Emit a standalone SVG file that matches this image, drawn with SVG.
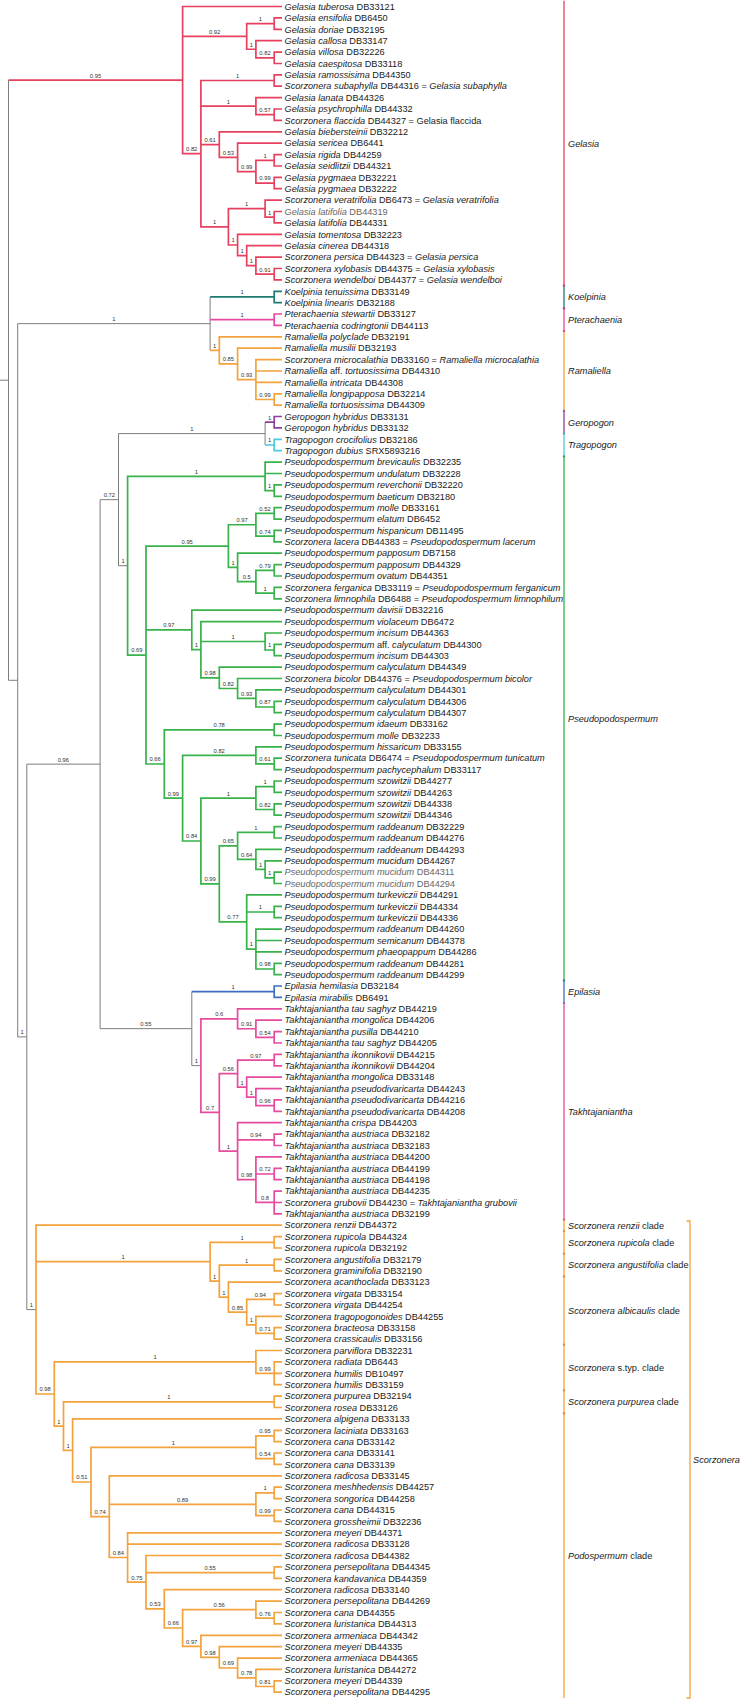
<svg xmlns="http://www.w3.org/2000/svg" width="742" height="1701" viewBox="0 0 742 1701">
<style>
.b{fill:none;stroke-width:1.7;stroke-linejoin:miter}
.bb{fill:none;stroke:#7d7d7d;stroke-width:1}
.ge{stroke:#e8405f}.ko{stroke:#1e7b73}.pt{stroke:#e8489e}.ra{stroke:#f4a23c}.gp{stroke:#8e3ea0}.tr{stroke:#4cc9dc}.ps{stroke:#38b24a}.ep{stroke:#3d6cc2}.ta{stroke:#e84a9e}.sc{stroke:#f4a23c}
.br{fill:none;stroke-width:1.3}
text{font-family:"Liberation Sans",Arial,sans-serif}
.l{font-size:9.2px;fill:#1a1a1a}
.c{font-size:9.2px;fill:#1a1a1a}
.s{font-size:5.8px;fill:#333;text-anchor:middle}
.i{font-style:italic}
.g{fill:#666}
</style>
<g id="connectors">
<path class="bb" d="M0 380.2H8.5M8.5 80.1V680.3H17.7M17.7 323.65H210.1M17.7 323.65V1036.9H26.8M100.1 764.15H26.8V1309.6H36M118.5 499.65H100.1V1028.65H191.8M265.1 433.6H118.5V565.7H127.6M210.1 296.95V350.35M265.1 422.2V445M191.8 991.7V1065.6H200.9"/>
<path class="b ge" d="M8.5 80.1H182.6M282 6.5H182.6V153.65H200.9M182.6 36.4H246.7M274.2 23.6H246.7V49.25H255.9M282 17.9H274.2V29.3H282M282 40.7H255.9V57.8H274.2M282 52.1H274.2V63.5H282M274.2 80.5H200.9V226.8H228.4M200.9 106.15H255.9M200.9 144.6H219.3M282 74.8H274.2V86.2H282M282 97.6H255.9V114.7H274.2M282 109H274.2V120.4H282M282 131.8H219.3V157.45H237.6M282 143.2H237.6V171.7H255.9M274.2 160.3H255.9V183.05H274.2M282 154.6H274.2V166H282M282 177.4H274.2V188.7H282M265.1 208.65H228.4V245H237.6M282 200.1H265.1V217.2H274.2M282 211.5H274.2V222.9H282M282 234.3H237.6V255.7H246.7M282 245.7H246.7V265.65H255.9M282 257.1H255.9V274.2H274.2M282 268.5H274.2V279.9H282"/>
<path class="b ko" d="M210.1 296.95H274.2M282 291.3H274.2V302.6H282"/>
<path class="b pt" d="M210.1 319.7H274.2M282 314H274.2V325.4H282"/>
<path class="b ra" d="M210.1 350.35H219.3M282 336.8H219.3V363.9H237.6M282 348.2H237.6V379.55H255.9M282 359.6H255.9V399.5H274.2M255.9 371H282M255.9 382.4H282M282 393.8H274.2V405.2H282"/>
<path class="b gp" d="M265.1 422.2H274.2M282 416.5H274.2V427.9H282"/>
<path class="b tr" d="M265.1 445H274.2M282 439.3H274.2V450.7H282"/>
<path class="b ps" d="M265.1 476.35H127.6V655.05H146M282 462.1H265.1V490.6H274.2M265.1 473.5H282M282 484.9H274.2V496.3H282M228.4 546.1H146V764H164.3M146 629.95H191.8M255.9 524.75H228.4V567.45H237.6M274.2 513.4H255.9V536.1H274.2M282 507.7H274.2V519.1H282M282 530.4H274.2V541.8H282M282 553.2H237.6V581.7H255.9M274.2 570.3H255.9V593.1H274.2M282 564.6H274.2V576H282M282 587.4H274.2V598.8H282M282 610.2H191.8V649.7H200.9M282 621.6H200.9V677.8H219.3M200.9 641.5H265.1M282 633H265.1V650H274.2M282 644.3H274.2V655.7H282M282 667.1H219.3V688.5H237.6M282 678.5H237.6V698.45H255.9M282 689.9H255.9V707H274.2M282 701.3H274.2V712.7H282M274.2 729.8H164.3V798.2H182.6M282 724.1H274.2V735.5H282M255.9 755.4H182.6V841H200.9M282 746.9H255.9V763.9H274.2M282 758.2H274.2V769.6H282M255.9 798.1H200.9V883.9H219.3M274.2 786.7H255.9V809.5H274.2M282 781H274.2V792.4H282M282 803.8H274.2V815.2H282M237.6 845.8H219.3V921.95H246.7M274.2 832.3H237.6V859.35H255.9M282 826.6H274.2V838H282M282 849.4H255.9V869.3H265.1M282 860.8H265.1V877.8H274.2M282 872.1H274.2V883.5H282M282 894.9H246.7V949.05H255.9M246.7 912H274.2M282 906.3H274.2V917.7H282M282 929.1H255.9V969H274.2M255.9 940.5H282M255.9 951.9H282M282 963.3H274.2V974.7H282"/>
<path class="b ep" d="M191.8 991.7H274.2M282 986H274.2V997.4H282"/>
<path class="b ta" d="M237.6 1018.8H200.9V1112.4H219.3M282 1008.8H237.6V1028.75H255.9M282 1020.2H255.9V1037.3H274.2M282 1031.6H274.2V1043H282M237.6 1073.6H219.3V1151.2H237.6M274.2 1060.1H237.6V1087.15H246.7M282 1054.4H274.2V1065.8H282M282 1077.2H246.7V1097.1H255.9M282 1088.6H255.9V1105.6H274.2M282 1099.9H274.2V1111.3H282M282 1122.7H237.6V1179.7H255.9M237.6 1139.8H274.2M282 1134.1H274.2V1145.5H282M282 1156.9H255.9V1202.45H274.2M255.9 1174H274.2M282 1168.3H274.2V1179.7H282M282 1191.1H274.2V1213.8H282M274.2 1202.5H282"/>
<path class="b sc" d="M282 1225.2H36V1394H54.3M36 1261.7H210.1M274.2 1242.3H210.1V1281.1H219.3M282 1236.6H274.2V1248H282M274.2 1265.1H219.3V1297.15H228.4M282 1259.4H274.2V1270.8H282M282 1282.2H228.4V1312.1H246.7M274.2 1299.3H246.7V1324.9H255.9M282 1293.6H274.2V1305H282M282 1316.4H255.9V1333.4H274.2M282 1327.7H274.2V1339.1H282M255.9 1361.9H54.3V1426.1H63.5M282 1350.5H255.9V1373.3H274.2M282 1361.9H274.2V1384.7H282M274.2 1373.3H282M274.2 1401.8H63.5V1450.45H72.6M282 1396.1H274.2V1407.5H282M282 1418.9H72.6V1482H91M255.9 1447.3H91V1516.65H109.3M274.2 1435.95H255.9V1458.7H274.2M282 1430.3H274.2V1441.6H282M282 1453H274.2V1464.4H282M282 1475.8H109.3V1557.5H127.6M109.3 1504.3H255.9M274.2 1492.9H255.9V1515.7H274.2M282 1487.2H274.2V1498.6H282M282 1510H274.2V1521.4H282M282 1532.8H127.6V1582.2H146M127.6 1544.2H282M282 1555.5H146V1608.85H164.3M146 1572.6H274.2M282 1566.9H274.2V1578.3H282M282 1589.7H164.3V1628H182.6M255.9 1609.65H182.6V1646.3H200.9M282 1601.1H255.9V1618.2H274.2M282 1612.5H274.2V1623.9H282M282 1635.3H200.9V1657.35H219.3M282 1646.7H219.3V1668H237.6M282 1658.1H237.6V1677.95H255.9M282 1669.4H255.9V1686.5H274.2M282 1680.8H274.2V1692.2H282"/>
</g>
<g id="support">
<text class="s" x="95.5" y="77.5">0.95</text><text class="s" x="214.6" y="33.8">0.92</text><text class="s" x="260.4" y="21">1</text><text class="s" x="251.3" y="46.6">1</text><text class="s" x="265" y="55.2">0.82</text><text class="s" x="191.7" y="151">0.82</text><text class="s" x="237.5" y="77.9">1</text><text class="s" x="228.4" y="103.5">1</text><text class="s" x="265" y="112.1">0.57</text><text class="s" x="210.1" y="142">0.61</text><text class="s" x="228.4" y="154.8">0.53</text><text class="s" x="246.7" y="169.1">0.99</text><text class="s" x="265" y="157.7">1</text><text class="s" x="265" y="180.4">0.99</text><text class="s" x="214.6" y="224.2">1</text><text class="s" x="246.7" y="206">1</text><text class="s" x="269.6" y="214.6">1</text><text class="s" x="233" y="242.4">1</text><text class="s" x="242.1" y="253.1">1</text><text class="s" x="251.3" y="263">1</text><text class="s" x="265" y="271.6">0.91</text>
<text class="s" x="113.9" y="321">1</text><text class="s" x="242.1" y="294.3">1</text><text class="s" x="242.1" y="317.1">1</text><text class="s" x="214.7" y="347.7">1</text><text class="s" x="228.4" y="361.3">0.85</text><text class="s" x="246.7" y="376.9">0.93</text><text class="s" x="265" y="396.9">0.99</text>
<text class="s" x="191.8" y="431">1</text><text class="s" x="269.6" y="419.6">1</text><text class="s" x="269.6" y="442.4">1</text>
<text class="s" x="22.2" y="1034.3">1</text><text class="s" x="63.4" y="761.5">0.96</text><text class="s" x="109.3" y="497">0.72</text><text class="s" x="145.9" y="1026">0.55</text><text class="s" x="31.4" y="1307">1</text>
<text class="s" x="123" y="563.1">1</text><text class="s" x="196.3" y="473.7">1</text><text class="s" x="269.6" y="488">1</text><text class="s" x="136.8" y="652.4">0.69</text><text class="s" x="187.2" y="543.5">0.95</text><text class="s" x="242.1" y="522.1">0.97</text><text class="s" x="265" y="510.8">0.52</text><text class="s" x="265" y="533.5">0.74</text><text class="s" x="233" y="564.8">1</text><text class="s" x="246.7" y="579.1">0.5</text><text class="s" x="265" y="567.7">0.79</text><text class="s" x="265" y="590.5">1</text><text class="s" x="168.9" y="627.3">0.97</text><text class="s" x="196.3" y="647.1">1</text><text class="s" x="233" y="638.9">1</text><text class="s" x="269.6" y="647.4">1</text><text class="s" x="210.1" y="675.2">0.98</text><text class="s" x="228.4" y="685.9">0.82</text><text class="s" x="246.7" y="695.8">0.93</text><text class="s" x="265" y="704.4">0.87</text><text class="s" x="155.1" y="761.4">0.66</text><text class="s" x="219.2" y="727.2">0.78</text><text class="s" x="173.4" y="795.6">0.99</text><text class="s" x="219.2" y="752.8">0.82</text><text class="s" x="265" y="761.3">0.61</text><text class="s" x="191.7" y="838.4">0.84</text><text class="s" x="228.4" y="795.5">1</text><text class="s" x="265" y="784.1">1</text><text class="s" x="265" y="806.9">0.82</text><text class="s" x="210.1" y="881.3">0.99</text><text class="s" x="228.4" y="843.2">0.65</text><text class="s" x="255.9" y="829.7">1</text><text class="s" x="246.7" y="856.7">0.64</text><text class="s" x="260.5" y="866.7">1</text><text class="s" x="269.6" y="875.2">1</text><text class="s" x="233" y="919.3">0.77</text><text class="s" x="260.4" y="909.4">1</text><text class="s" x="251.3" y="946.4">1</text><text class="s" x="265" y="966.4">0.98</text>
<text class="s" x="233" y="989.1">1</text><text class="s" x="196.3" y="1063">1</text><text class="s" x="219.2" y="1016.2">0.6</text><text class="s" x="246.7" y="1026.1">0.91</text><text class="s" x="265" y="1034.7">0.54</text><text class="s" x="210.1" y="1109.8">0.7</text><text class="s" x="228.4" y="1071">0.56</text><text class="s" x="255.9" y="1057.5">0.97</text><text class="s" x="242.1" y="1084.5">1</text><text class="s" x="251.3" y="1094.5">1</text><text class="s" x="265" y="1103">0.96</text><text class="s" x="228.4" y="1148.6">1</text><text class="s" x="255.9" y="1137.2">0.94</text><text class="s" x="246.7" y="1177.1">0.98</text><text class="s" x="265" y="1171.4">0.72</text><text class="s" x="265" y="1199.8">0.8</text>
<text class="s" x="123" y="1259.1">1</text><text class="s" x="242.1" y="1239.7">1</text><text class="s" x="214.7" y="1278.5">1</text><text class="s" x="246.7" y="1262.5">1</text><text class="s" x="223.8" y="1294.5">1</text><text class="s" x="237.5" y="1309.5">0.85</text><text class="s" x="260.4" y="1296.7">0.94</text><text class="s" x="251.3" y="1322.3">1</text><text class="s" x="265" y="1330.8">0.71</text><text class="s" x="45.1" y="1391.4">0.98</text><text class="s" x="155.1" y="1359.3">1</text><text class="s" x="265" y="1370.7">0.99</text><text class="s" x="58.9" y="1423.5">1</text><text class="s" x="168.8" y="1399.2">1</text><text class="s" x="68" y="1447.8">1</text><text class="s" x="81.8" y="1479.4">0.51</text><text class="s" x="173.4" y="1444.7">1</text><text class="s" x="265" y="1433.3">0.95</text><text class="s" x="265" y="1456.1">0.54</text><text class="s" x="100.1" y="1514">0.74</text><text class="s" x="182.6" y="1501.7">0.89</text><text class="s" x="265" y="1490.3">1</text><text class="s" x="265" y="1513.1">0.99</text><text class="s" x="118.4" y="1554.9">0.84</text><text class="s" x="136.8" y="1579.6">0.75</text><text class="s" x="210.1" y="1570">0.55</text><text class="s" x="155.1" y="1606.2">0.53</text><text class="s" x="173.4" y="1625.4">0.66</text><text class="s" x="219.2" y="1607">0.56</text><text class="s" x="265" y="1615.6">0.76</text><text class="s" x="191.7" y="1643.7">0.97</text><text class="s" x="210.1" y="1654.7">0.98</text><text class="s" x="228.4" y="1665.4">0.69</text><text class="s" x="246.7" y="1675.3">0.78</text><text class="s" x="265" y="1683.9">0.81</text>
</g>
<g id="leaves">
<g id="leaf1"><text class="l" x="284.5" y="9.7"><tspan class="i">Gelasia tuberosa</tspan> DB33121</text></g>
<g id="leaf2"><text class="l" x="284.5" y="21.1"><tspan class="i">Gelasia ensifolia</tspan> DB6450</text></g>
<g id="leaf3"><text class="l" x="284.5" y="32.5"><tspan class="i">Gelasia doriae</tspan> DB32195</text></g>
<g id="leaf4"><text class="l" x="284.5" y="43.9"><tspan class="i">Gelasia callosa</tspan> DB33147</text></g>
<g id="leaf5"><text class="l" x="284.5" y="55.3"><tspan class="i">Gelasia villosa</tspan> DB32226</text></g>
<g id="leaf6"><text class="l" x="284.5" y="66.7"><tspan class="i">Gelasia caespitosa</tspan> DB33118</text></g>
<g id="leaf7"><text class="l" x="284.5" y="78"><tspan class="i">Gelasia ramossisima</tspan> DB44350</text></g>
<g id="leaf8"><text class="l" x="284.5" y="89.4"><tspan class="i">Scorzonera subaphylla</tspan> DB44316 = <tspan class="i">Gelasia subaphylla</tspan></text></g>
<g id="leaf9"><text class="l" x="284.5" y="100.8"><tspan class="i">Gelasia lanata</tspan> DB44326</text></g>
<g id="leaf10"><text class="l" x="284.5" y="112.2"><tspan class="i">Gelasia psychrophilla</tspan> DB44332</text></g>
<g id="leaf11"><text class="l" x="284.5" y="123.6"><tspan class="i">Scorzonera flaccida</tspan> DB44327 = Gelasia flaccida</text></g>
<g id="leaf12"><text class="l" x="284.5" y="135"><tspan class="i">Gelasia biebersteinii</tspan> DB32212</text></g>
<g id="leaf13"><text class="l" x="284.5" y="146.4"><tspan class="i">Gelasia sericea</tspan> DB6441</text></g>
<g id="leaf14"><text class="l" x="284.5" y="157.8"><tspan class="i">Gelasia rigida</tspan> DB44259</text></g>
<g id="leaf15"><text class="l" x="284.5" y="169.2"><tspan class="i">Gelasia seidlitzii</tspan> DB44321</text></g>
<g id="leaf16"><text class="l" x="284.5" y="180.6"><tspan class="i">Gelasia pygmaea</tspan> DB32221</text></g>
<g id="leaf17"><text class="l" x="284.5" y="191.9"><tspan class="i">Gelasia pygmaea</tspan> DB32222</text></g>
<g id="leaf18"><text class="l" x="284.5" y="203.3"><tspan class="i">Scorzonera veratrifolia</tspan> DB6473 = <tspan class="i">Gelasia veratrifolia</tspan></text></g>
<g id="leaf19"><text class="l g" x="284.5" y="214.7"><tspan class="i">Gelasia latifolia</tspan> DB44319</text></g>
<g id="leaf20"><text class="l" x="284.5" y="226.1"><tspan class="i">Gelasia latifolia</tspan> DB44331</text></g>
<g id="leaf21"><text class="l" x="284.5" y="237.5"><tspan class="i">Gelasia tomentosa</tspan> DB32223</text></g>
<g id="leaf22"><text class="l" x="284.5" y="248.9"><tspan class="i">Gelasia cinerea</tspan> DB44318</text></g>
<g id="leaf23"><text class="l" x="284.5" y="260.3"><tspan class="i">Scorzonera persica</tspan> DB44323 = <tspan class="i">Gelasia persica</tspan></text></g>
<g id="leaf24"><text class="l" x="284.5" y="271.7"><tspan class="i">Scorzonera xylobasis</tspan> DB44375 = <tspan class="i">Gelasia xylobasis</tspan></text></g>
<g id="leaf25"><text class="l" x="284.5" y="283.1"><tspan class="i">Scorzonera wendelboi</tspan> DB44377 = <tspan class="i">Gelasia wendelboi</tspan></text></g>
<g id="leaf26"><text class="l" x="284.5" y="294.5"><tspan class="i">Koelpinia tenuissima</tspan> DB33149</text></g>
<g id="leaf27"><text class="l" x="284.5" y="305.8"><tspan class="i">Koelpinia linearis</tspan> DB32188</text></g>
<g id="leaf28"><text class="l" x="284.5" y="317.2"><tspan class="i">Pterachaenia stewartii</tspan> DB33127</text></g>
<g id="leaf29"><text class="l" x="284.5" y="328.6"><tspan class="i">Pterachaenia codringtonii</tspan> DB44113</text></g>
<g id="leaf30"><text class="l" x="284.5" y="340"><tspan class="i">Ramaliella polyclade</tspan> DB32191</text></g>
<g id="leaf31"><text class="l" x="284.5" y="351.4"><tspan class="i">Ramaliella musilii</tspan> DB32193</text></g>
<g id="leaf32"><text class="l" x="284.5" y="362.8"><tspan class="i">Scorzonera microcalathia</tspan> DB33160 = <tspan class="i">Ramaliella microcalathia</tspan></text></g>
<g id="leaf33"><text class="l" x="284.5" y="374.2"><tspan class="i">Ramaliella</tspan> aff. <tspan class="i">tortuosissima</tspan> DB44310</text></g>
<g id="leaf34"><text class="l" x="284.5" y="385.6"><tspan class="i">Ramaliella intricata</tspan> DB44308</text></g>
<g id="leaf35"><text class="l" x="284.5" y="397"><tspan class="i">Ramaliella longipapposa</tspan> DB32214</text></g>
<g id="leaf36"><text class="l" x="284.5" y="408.4"><tspan class="i">Ramaliella tortuosissima</tspan> DB44309</text></g>
<g id="leaf37"><text class="l" x="284.5" y="419.7"><tspan class="i">Geropogon hybridus</tspan> DB33131</text></g>
<g id="leaf38"><text class="l" x="284.5" y="431.1"><tspan class="i">Geropogon hybridus</tspan> DB33132</text></g>
<g id="leaf39"><text class="l" x="284.5" y="442.5"><tspan class="i">Tragopogon crocifolius</tspan> DB32186</text></g>
<g id="leaf40"><text class="l" x="284.5" y="453.9"><tspan class="i">Tragopogon dubius</tspan> SRX5893216</text></g>
<g id="leaf41"><text class="l" x="284.5" y="465.3"><tspan class="i">Pseudopodospermum brevicaulis</tspan> DB32235</text></g>
<g id="leaf42"><text class="l" x="284.5" y="476.7"><tspan class="i">Pseudopodospermum undulatum</tspan> DB32228</text></g>
<g id="leaf43"><text class="l" x="284.5" y="488.1"><tspan class="i">Pseudopodospermum reverchonii</tspan> DB32220</text></g>
<g id="leaf44"><text class="l" x="284.5" y="499.5"><tspan class="i">Pseudopodospermum baeticum</tspan> DB32180</text></g>
<g id="leaf45"><text class="l" x="284.5" y="510.9"><tspan class="i">Pseudopodospermum molle</tspan> DB33161</text></g>
<g id="leaf46"><text class="l" x="284.5" y="522.3"><tspan class="i">Pseudopodospermum elatum</tspan> DB6452</text></g>
<g id="leaf47"><text class="l" x="284.5" y="533.6"><tspan class="i">Pseudopodospermum hispanicum</tspan> DB11495</text></g>
<g id="leaf48"><text class="l" x="284.5" y="545"><tspan class="i">Scorzonera lacera</tspan> DB44383 = <tspan class="i">Pseudopodospermum lacerum</tspan></text></g>
<g id="leaf49"><text class="l" x="284.5" y="556.4"><tspan class="i">Pseudopodospermum papposum</tspan> DB7158</text></g>
<g id="leaf50"><text class="l" x="284.5" y="567.8"><tspan class="i">Pseudopodospermum papposum</tspan> DB44329</text></g>
<g id="leaf51"><text class="l" x="284.5" y="579.2"><tspan class="i">Pseudopodospermum ovatum</tspan> DB44351</text></g>
<g id="leaf52"><text class="l" x="284.5" y="590.6"><tspan class="i">Scorzonera ferganica</tspan> DB33119 = <tspan class="i">Pseudopodospermum ferganicum</tspan></text></g>
<g id="leaf53"><text class="l" x="284.5" y="602"><tspan class="i">Scorzonera limnophila</tspan> DB6488 = <tspan class="i">Pseudopodospermum limnophilum</tspan></text></g>
<g id="leaf54"><text class="l" x="284.5" y="613.4"><tspan class="i">Pseudopodospermum davisii</tspan> DB32216</text></g>
<g id="leaf55"><text class="l" x="284.5" y="624.8"><tspan class="i">Pseudopodospermum violaceum</tspan> DB6472</text></g>
<g id="leaf56"><text class="l" x="284.5" y="636.2"><tspan class="i">Pseudopodospermum incisum</tspan> DB44363</text></g>
<g id="leaf57"><text class="l" x="284.5" y="647.5"><tspan class="i">Pseudopodospermum</tspan> aff. <tspan class="i">calyculatum</tspan> DB44300</text></g>
<g id="leaf58"><text class="l" x="284.5" y="658.9"><tspan class="i">Pseudopodospermum incisum</tspan> DB44303</text></g>
<g id="leaf59"><text class="l" x="284.5" y="670.3"><tspan class="i">Pseudopodospermum calyculatum</tspan> DB44349</text></g>
<g id="leaf60"><text class="l" x="284.5" y="681.7"><tspan class="i">Scorzonera bicolor</tspan> DB44376 = <tspan class="i">Pseudopodospermum bicolor</tspan></text></g>
<g id="leaf61"><text class="l" x="284.5" y="693.1"><tspan class="i">Pseudopodospermum calyculatum</tspan> DB44301</text></g>
<g id="leaf62"><text class="l" x="284.5" y="704.5"><tspan class="i">Pseudopodospermum calyculatum</tspan> DB44306</text></g>
<g id="leaf63"><text class="l" x="284.5" y="715.9"><tspan class="i">Pseudopodospermum calyculatum</tspan> DB44307</text></g>
<g id="leaf64"><text class="l" x="284.5" y="727.3"><tspan class="i">Pseudopodospermum idaeum</tspan> DB33162</text></g>
<g id="leaf65"><text class="l" x="284.5" y="738.7"><tspan class="i">Pseudopodospermum molle</tspan> DB32233</text></g>
<g id="leaf66"><text class="l" x="284.5" y="750.1"><tspan class="i">Pseudopodospermum hissaricum</tspan> DB33155</text></g>
<g id="leaf67"><text class="l" x="284.5" y="761.4"><tspan class="i">Scorzonera tunicata</tspan> DB6474 = <tspan class="i">Pseudopodospermum tunicatum</tspan></text></g>
<g id="leaf68"><text class="l" x="284.5" y="772.8"><tspan class="i">Pseudopodospermum pachycephalum</tspan> DB33117</text></g>
<g id="leaf69"><text class="l" x="284.5" y="784.2"><tspan class="i">Pseudopodospermum szowitzii</tspan> DB44277</text></g>
<g id="leaf70"><text class="l" x="284.5" y="795.6"><tspan class="i">Pseudopodospermum szowitzii</tspan> DB44263</text></g>
<g id="leaf71"><text class="l" x="284.5" y="807"><tspan class="i">Pseudopodospermum szowitzii</tspan> DB44338</text></g>
<g id="leaf72"><text class="l" x="284.5" y="818.4"><tspan class="i">Pseudopodospermum szowitzii</tspan> DB44346</text></g>
<g id="leaf73"><text class="l" x="284.5" y="829.8"><tspan class="i">Pseudopodospermum raddeanum</tspan> DB32229</text></g>
<g id="leaf74"><text class="l" x="284.5" y="841.2"><tspan class="i">Pseudopodospermum raddeanum</tspan> DB44276</text></g>
<g id="leaf75"><text class="l" x="284.5" y="852.6"><tspan class="i">Pseudopodospermum raddeanum</tspan> DB44293</text></g>
<g id="leaf76"><text class="l" x="284.5" y="864"><tspan class="i">Pseudopodospermum mucidum</tspan> DB44267</text></g>
<g id="leaf77"><text class="l g" x="284.5" y="875.3"><tspan class="i">Pseudopodospermum mucidum</tspan> DB44311</text></g>
<g id="leaf78"><text class="l g" x="284.5" y="886.7"><tspan class="i">Pseudopodospermum mucidum</tspan> DB44294</text></g>
<g id="leaf79"><text class="l" x="284.5" y="898.1"><tspan class="i">Pseudopodospermum turkeviczii</tspan> DB44291</text></g>
<g id="leaf80"><text class="l" x="284.5" y="909.5"><tspan class="i">Pseudopodospermum turkeviczii</tspan> DB44334</text></g>
<g id="leaf81"><text class="l" x="284.5" y="920.9"><tspan class="i">Pseudopodospermum turkeviczii</tspan> DB44336</text></g>
<g id="leaf82"><text class="l" x="284.5" y="932.3"><tspan class="i">Pseudopodospermum raddeanum</tspan> DB44260</text></g>
<g id="leaf83"><text class="l" x="284.5" y="943.7"><tspan class="i">Pseudopodospermum semicanum</tspan> DB44378</text></g>
<g id="leaf84"><text class="l" x="284.5" y="955.1"><tspan class="i">Pseudopodospermum phaeopappum</tspan> DB44286</text></g>
<g id="leaf85"><text class="l" x="284.5" y="966.5"><tspan class="i">Pseudopodospermum raddeanum</tspan> DB44281</text></g>
<g id="leaf86"><text class="l" x="284.5" y="977.9"><tspan class="i">Pseudopodospermum raddeanum</tspan> DB44299</text></g>
<g id="leaf87"><text class="l" x="284.5" y="989.2"><tspan class="i">Epilasia hemilasia</tspan> DB32184</text></g>
<g id="leaf88"><text class="l" x="284.5" y="1000.6"><tspan class="i">Epilasia mirabilis</tspan> DB6491</text></g>
<g id="leaf89"><text class="l" x="284.5" y="1012"><tspan class="i">Takhtajaniantha tau saghyz</tspan> DB44219</text></g>
<g id="leaf90"><text class="l" x="284.5" y="1023.4"><tspan class="i">Takhtajaniantha mongolica</tspan> DB44206</text></g>
<g id="leaf91"><text class="l" x="284.5" y="1034.8"><tspan class="i">Takhtajaniantha pusilla</tspan> DB44210</text></g>
<g id="leaf92"><text class="l" x="284.5" y="1046.2"><tspan class="i">Takhtajaniantha tau saghyz</tspan> DB44205</text></g>
<g id="leaf93"><text class="l" x="284.5" y="1057.6"><tspan class="i">Takhtajaniantha ikonnikovii</tspan> DB44215</text></g>
<g id="leaf94"><text class="l" x="284.5" y="1069"><tspan class="i">Takhtajaniantha ikonnikovii</tspan> DB44204</text></g>
<g id="leaf95"><text class="l" x="284.5" y="1080.4"><tspan class="i">Takhtajaniantha mongolica</tspan> DB33148</text></g>
<g id="leaf96"><text class="l" x="284.5" y="1091.8"><tspan class="i">Takhtajaniantha pseudodivaricarta</tspan> DB44243</text></g>
<g id="leaf97"><text class="l" x="284.5" y="1103.1"><tspan class="i">Takhtajaniantha pseudodivaricarta</tspan> DB44216</text></g>
<g id="leaf98"><text class="l" x="284.5" y="1114.5"><tspan class="i">Takhtajaniantha pseudodivaricarta</tspan> DB44208</text></g>
<g id="leaf99"><text class="l" x="284.5" y="1125.9"><tspan class="i">Takhtajaniantha crispa</tspan> DB44203</text></g>
<g id="leaf100"><text class="l" x="284.5" y="1137.3"><tspan class="i">Takhtajaniantha austriaca</tspan> DB32182</text></g>
<g id="leaf101"><text class="l" x="284.5" y="1148.7"><tspan class="i">Takhtajaniantha austriaca</tspan> DB32183</text></g>
<g id="leaf102"><text class="l" x="284.5" y="1160.1"><tspan class="i">Takhtajaniantha austriaca</tspan> DB44200</text></g>
<g id="leaf103"><text class="l" x="284.5" y="1171.5"><tspan class="i">Takhtajaniantha austriaca</tspan> DB44199</text></g>
<g id="leaf104"><text class="l" x="284.5" y="1182.9"><tspan class="i">Takhtajaniantha austriaca</tspan> DB44198</text></g>
<g id="leaf105"><text class="l" x="284.5" y="1194.3"><tspan class="i">Takhtajaniantha austriaca</tspan> DB44235</text></g>
<g id="leaf106"><text class="l" x="284.5" y="1205.7"><tspan class="i">Scorzonera grubovii</tspan> DB44230 = <tspan class="i">Takhtajaniantha grubovii</tspan></text></g>
<g id="leaf107"><text class="l" x="284.5" y="1217"><tspan class="i">Takhtajaniantha austriaca</tspan> DB32199</text></g>
<g id="leaf108"><text class="l" x="284.5" y="1228.4"><tspan class="i">Scorzonera renzii</tspan> DB44372</text></g>
<g id="leaf109"><text class="l" x="284.5" y="1239.8"><tspan class="i">Scorzonera rupicola</tspan> DB44324</text></g>
<g id="leaf110"><text class="l" x="284.5" y="1251.2"><tspan class="i">Scorzonera rupicola</tspan> DB32192</text></g>
<g id="leaf111"><text class="l" x="284.5" y="1262.6"><tspan class="i">Scorzonera angustifolia</tspan> DB32179</text></g>
<g id="leaf112"><text class="l" x="284.5" y="1274"><tspan class="i">Scorzonera graminifolia</tspan> DB32190</text></g>
<g id="leaf113"><text class="l" x="284.5" y="1285.4"><tspan class="i">Scorzonera acanthoclada</tspan> DB33123</text></g>
<g id="leaf114"><text class="l" x="284.5" y="1296.8"><tspan class="i">Scorzonera virgata</tspan> DB33154</text></g>
<g id="leaf115"><text class="l" x="284.5" y="1308.2"><tspan class="i">Scorzonera virgata</tspan> DB44254</text></g>
<g id="leaf116"><text class="l" x="284.5" y="1319.6"><tspan class="i">Scorzonera tragopogonoides</tspan> DB44255</text></g>
<g id="leaf117"><text class="l" x="284.5" y="1330.9"><tspan class="i">Scorzonera bracteosa</tspan> DB33158</text></g>
<g id="leaf118"><text class="l" x="284.5" y="1342.3"><tspan class="i">Scorzonera crassicaulis</tspan> DB33156</text></g>
<g id="leaf119"><text class="l" x="284.5" y="1353.7"><tspan class="i">Scorzonera parviflora</tspan> DB32231</text></g>
<g id="leaf120"><text class="l" x="284.5" y="1365.1"><tspan class="i">Scorzonera radiata</tspan> DB6443</text></g>
<g id="leaf121"><text class="l" x="284.5" y="1376.5"><tspan class="i">Scorzonera humilis</tspan> DB10497</text></g>
<g id="leaf122"><text class="l" x="284.5" y="1387.9"><tspan class="i">Scorzonera humilis</tspan> DB33159</text></g>
<g id="leaf123"><text class="l" x="284.5" y="1399.3"><tspan class="i">Scorzonera purpurea</tspan> DB32194</text></g>
<g id="leaf124"><text class="l" x="284.5" y="1410.7"><tspan class="i">Scorzonera rosea</tspan> DB33126</text></g>
<g id="leaf125"><text class="l" x="284.5" y="1422.1"><tspan class="i">Scorzonera alpigena</tspan> DB33133</text></g>
<g id="leaf126"><text class="l" x="284.5" y="1433.5"><tspan class="i">Scorzonera laciniata</tspan> DB33163</text></g>
<g id="leaf127"><text class="l" x="284.5" y="1444.8"><tspan class="i">Scorzonera cana</tspan> DB33142</text></g>
<g id="leaf128"><text class="l" x="284.5" y="1456.2"><tspan class="i">Scorzonera cana</tspan> DB33141</text></g>
<g id="leaf129"><text class="l" x="284.5" y="1467.6"><tspan class="i">Scorzonera cana</tspan> DB33139</text></g>
<g id="leaf130"><text class="l" x="284.5" y="1479"><tspan class="i">Scorzonera radicosa</tspan> DB33145</text></g>
<g id="leaf131"><text class="l" x="284.5" y="1490.4"><tspan class="i">Scorzonera meshhedensis</tspan> DB44257</text></g>
<g id="leaf132"><text class="l" x="284.5" y="1501.8"><tspan class="i">Scorzonera songorica</tspan> DB44258</text></g>
<g id="leaf133"><text class="l" x="284.5" y="1513.2"><tspan class="i">Scorzonera cana</tspan> DB44315</text></g>
<g id="leaf134"><text class="l" x="284.5" y="1524.6"><tspan class="i">Scorzonera grossheimii</tspan> DB32236</text></g>
<g id="leaf135"><text class="l" x="284.5" y="1536"><tspan class="i">Scorzonera meyeri</tspan> DB44371</text></g>
<g id="leaf136"><text class="l" x="284.5" y="1547.4"><tspan class="i">Scorzonera radicosa</tspan> DB33128</text></g>
<g id="leaf137"><text class="l" x="284.5" y="1558.7"><tspan class="i">Scorzonera radicosa</tspan> DB44382</text></g>
<g id="leaf138"><text class="l" x="284.5" y="1570.1"><tspan class="i">Scorzonera persepolitana</tspan> DB44345</text></g>
<g id="leaf139"><text class="l" x="284.5" y="1581.5"><tspan class="i">Scorzonera kandavanica</tspan> DB44359</text></g>
<g id="leaf140"><text class="l" x="284.5" y="1592.9"><tspan class="i">Scorzonera radicosa</tspan> DB33140</text></g>
<g id="leaf141"><text class="l" x="284.5" y="1604.3"><tspan class="i">Scorzonera persepolitana</tspan> DB44269</text></g>
<g id="leaf142"><text class="l" x="284.5" y="1615.7"><tspan class="i">Scorzonera cana</tspan> DB44355</text></g>
<g id="leaf143"><text class="l" x="284.5" y="1627.1"><tspan class="i">Scorzonera luristanica</tspan> DB44313</text></g>
<g id="leaf144"><text class="l" x="284.5" y="1638.5"><tspan class="i">Scorzonera armeniaca</tspan> DB44342</text></g>
<g id="leaf145"><text class="l" x="284.5" y="1649.9"><tspan class="i">Scorzonera meyeri</tspan> DB44335</text></g>
<g id="leaf146"><text class="l" x="284.5" y="1661.3"><tspan class="i">Scorzonera armeniaca</tspan> DB44365</text></g>
<g id="leaf147"><text class="l" x="284.5" y="1672.6"><tspan class="i">Scorzonera luristanica</tspan> DB44272</text></g>
<g id="leaf148"><text class="l" x="284.5" y="1684"><tspan class="i">Scorzonera meyeri</tspan> DB44339</text></g>
<g id="leaf149"><text class="l" x="284.5" y="1695.4"><tspan class="i">Scorzonera persepolitana</tspan> DB44295</text></g>
</g>
<g id="clades">
<g id="clade-gelasia"><path class="br ge" d="M564 0.8V285.6"/><text class="c i" x="568" y="146.5">Gelasia</text></g>
<g id="clade-koelpinia"><path class="br ko" d="M564 285.6V308.3"/><text class="c i" x="568" y="300.3">Koelpinia</text></g>
<g id="clade-pterachaenia"><path class="br pt" d="M564 308.3V331.1"/><text class="c i" x="568" y="323">Pterachaenia</text></g>
<g id="clade-ramaliella"><path class="br ra" d="M564 331.1V410.9"/><text class="c i" x="568" y="374.3">Ramaliella</text></g>
<g id="clade-geropogon"><path class="br gp" d="M564 410.9V433.6"/><text class="c i" x="568" y="425.5">Geropogon</text></g>
<g id="clade-tragopogon"><path class="br tr" d="M564 433.6V456.4"/><text class="c i" x="568" y="448.3">Tragopogon</text></g>
<g id="clade-pseudopodospermum"><path class="br ps" d="M564 456.4V980.4"/><text class="c i" x="568" y="721.7">Pseudopodospermum</text></g>
<g id="clade-epilasia"><path class="br ep" d="M564 980.4V1003.1"/><text class="c i" x="568" y="995">Epilasia</text></g>
<g id="clade-takhtajaniantha"><path class="br ta" d="M564 1003.1V1219.5"/><text class="c i" x="568" y="1114.6">Takhtajaniantha</text></g>
<g id="clade-renzii"><path class="br sc" d="M564 1219.5V1230.9"/><text class="c" x="568" y="1228.5"><tspan class="i">Scorzonera renzii</tspan> clade</text></g>
<g id="clade-rupicola"><path class="br sc" d="M564 1230.9V1253.7"/><text class="c" x="568" y="1245.6"><tspan class="i">Scorzonera rupicola</tspan> clade</text></g>
<g id="clade-angustifolia"><path class="br sc" d="M564 1253.7V1276.5"/><text class="c" x="568" y="1268.4"><tspan class="i">Scorzonera angustifolia</tspan> clade</text></g>
<g id="clade-albicaulis"><path class="br sc" d="M564 1276.5V1344.8"/><text class="c" x="568" y="1314"><tspan class="i">Scorzonera albicaulis</tspan> clade</text></g>
<g id="clade-styp"><path class="br sc" d="M564 1344.8V1390.4"/><text class="c" x="568" y="1370.9"><tspan class="i">Scorzonera</tspan> s.typ. clade</text></g>
<g id="clade-purpurea"><path class="br sc" d="M564 1390.4V1413.2"/><text class="c" x="568" y="1405.1"><tspan class="i">Scorzonera purpurea</tspan> clade</text></g>
<g id="clade-podospermum"><path class="br sc" d="M564 1413.2V1697.9"/><text class="c" x="568" y="1558.8"><tspan class="i">Podospermum</tspan> clade</text></g>
<g id="clade-scorzonera"><path class="br sc" d="M686.5 1221H690V1698H686.5"/><text class="c i" x="693" y="1463">Scorzonera</text></g>
<g id="bracket-dots" fill="#d06a8a">
<circle cx="564" cy="285.6" r="1.2" fill="#b8457a"/><circle cx="564" cy="308.3" r="1.2" fill="#b8457a"/><circle cx="564" cy="331.1" r="1.2" fill="#d0507a"/><circle cx="564" cy="410.9" r="1.2" fill="#a0509a"/><circle cx="564" cy="433.6" r="1.2" fill="#6aa0c0"/><circle cx="564" cy="456.4" r="1.2" fill="#3aa07a"/><circle cx="564" cy="980.4" r="1.2" fill="#3a80a0"/><circle cx="564" cy="1003.1" r="1.2" fill="#b05aa8"/><circle cx="564" cy="1219.5" r="1.2" fill="#e07060"/><circle cx="564" cy="1230.9" r="1.2" fill="#e09040"/><circle cx="564" cy="1253.7" r="1.2" fill="#e09040"/><circle cx="564" cy="1276.5" r="1.2" fill="#e09040"/><circle cx="564" cy="1344.8" r="1.2" fill="#e09040"/><circle cx="564" cy="1390.4" r="1.2" fill="#e09040"/><circle cx="564" cy="1413.2" r="1.2" fill="#e09040"/>
</g>
</g>
</svg>
